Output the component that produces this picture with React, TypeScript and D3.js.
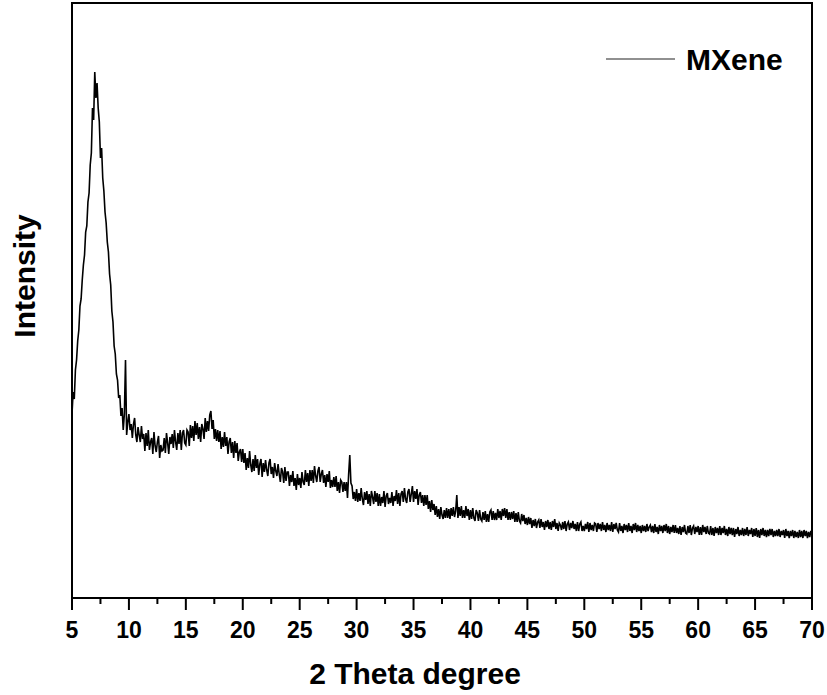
import React from "react";
import * as d3 from "d3";

// 2θ sampling: start, step (degrees)
const THETA_START = 5;
const THETA_STEP = 0.1;

// Intensity (a.u.) at 2θ = 5.0, 5.1, ... 70.0
const intensity: number[] = [
  // 5
  184, 206, 199, 228, 238, 257, 268, 292, 299, 318,
  // 6
  333, 343, 366, 372, 396, 405, 433, 445, 490, 478,
  // 7
  526, 500, 515, 490, 476, 440, 450, 420, 407, 386,
  // 8
  375, 356, 346, 324, 313, 287, 276, 252, 244, 224,
  // 9
  218, 200, 203, 182, 190, 168, 184, 238, 163, 176,
  // 10
  184, 168, 174, 160, 174, 180, 163, 156, 171, 163,
  // 11
  156, 172, 159, 164, 147, 165, 152, 168, 148, 156,
  // 12
  160, 144, 166, 152, 146, 156, 162, 140, 153, 147,
  // 13
  148, 160, 145, 165, 155, 144, 161, 154, 164, 150,
  // 14
  168, 156, 148, 165, 154, 168, 148, 165, 168, 155,
  // 15
  153, 168, 166, 152, 173, 160, 172, 157, 177, 163,
  // 16
  175, 159, 171, 156, 174, 169, 159, 180, 166, 177,
  // 17
  167, 183, 187, 169, 178, 159, 169, 157, 168, 156,
  // 18
  167, 149, 161, 151, 166, 152, 161, 144, 156, 160,
  // 19
  145, 156, 140, 157, 145, 155, 137, 146, 149, 136,
  // 20
  149, 135, 145, 128, 140, 130, 147, 133, 126, 139,
  // 21
  127, 143, 130, 139, 123, 134, 139, 121, 135, 126,
  // 22
  138, 128, 122, 135, 139, 124, 131, 120, 135, 127,
  // 23
  122, 134, 124, 116, 130, 126, 115, 131, 117, 126,
  // 24
  126, 112, 123, 116, 127, 112, 120, 108, 124, 113,
  // 25
  120, 110, 126, 116, 113, 128, 116, 125, 112, 128,
  // 26
  117, 128, 115, 132, 122, 116, 127, 131, 116, 124,
  // 27
  128, 115, 123, 111, 124, 116, 127, 110, 118, 111,
  // 28
  121, 111, 122, 107, 116, 105, 118, 116, 106, 116,
  // 29
  107, 116, 100, 124, 143, 115, 112, 99, 106, 97,
  // 30
  109, 96, 105, 97, 110, 99, 93, 106, 98, 107,
  // 31
  94, 104, 92, 107, 101, 94, 107, 96, 105, 92,
  // 32
  104, 92, 101, 95, 107, 91, 102, 105, 94, 100,
  // 33
  95, 106, 92, 102, 97, 108, 94, 105, 92, 104,
  // 34
  107, 96, 110, 99, 95, 106, 109, 96, 104, 112,
  // 35
  96, 107, 99, 109, 93, 103, 106, 95, 103, 92,
  // 36
  103, 93, 103, 89, 97, 86, 98, 88, 94, 83,
  // 37
  92, 81, 89, 79, 91, 83, 79, 88, 80, 90,
  // 38
  80, 89, 79, 90, 82, 91, 81, 87, 103, 80,
  // 39
  91, 82, 92, 80, 88, 80, 92, 82, 89, 78,
  // 40
  88, 79, 90, 80, 77, 88, 85, 77, 88, 79,
  // 41
  77, 86, 78, 87, 76, 84, 76, 86, 88, 78,
  // 42
  87, 78, 85, 78, 89, 80, 87, 78, 89, 82,
  // 43
  90, 80, 89, 78, 86, 78, 86, 79, 87, 76,
  // 44
  85, 76, 86, 77, 75, 84, 77, 83, 74, 80,
  // 45
  73, 81, 74, 80, 70, 78, 72, 79, 70, 76,
  // 46
  78, 70, 79, 71, 76, 68, 77, 71, 78, 69,
  // 47
  76, 68, 77, 71, 79, 69, 75, 67, 75, 73,
  // 48
  68, 76, 69, 77, 67, 74, 76, 68, 75, 70,
  // 49
  77, 69, 74, 67, 76, 67, 74, 76, 67, 72,
  // 50
  67, 74, 69, 76, 66, 75, 68, 73, 67, 75,
  // 51
  74, 66, 75, 69, 74, 67, 76, 68, 73, 66,
  // 52
  75, 68, 73, 67, 76, 66, 74, 69, 75, 68,
  // 53
  66, 75, 67, 72, 65, 74, 68, 73, 66, 75,
  // 54
  67, 72, 65, 74, 68, 75, 66, 73, 67, 72,
  // 55
  65, 73, 67, 72, 66, 74, 67, 71, 73, 66,
  // 56
  72, 65, 74, 66, 71, 64, 73, 67, 72, 65,
  // 57
  73, 67, 74, 65, 72, 64, 71, 66, 73, 65,
  // 58
  73, 65, 70, 64, 72, 63, 71, 66, 73, 65,
  // 59
  64, 72, 65, 73, 63, 70, 72, 64, 71, 66,
  // 60
  72, 63, 71, 63, 73, 66, 71, 64, 72, 65,
  // 61
  64, 72, 63, 70, 62, 71, 65, 70, 63, 72,
  // 62
  63, 70, 65, 72, 63, 69, 62, 71, 64, 70,
  // 63
  63, 70, 61, 69, 64, 71, 62, 68, 63, 70,
  // 64
  62, 69, 63, 71, 62, 68, 64, 70, 61, 69,
  // 65
  62, 70, 61, 68, 60, 69, 63, 70, 62, 68,
  // 66
  61, 68, 62, 69, 63, 69, 61, 67, 62, 68,
  // 67
  62, 69, 61, 67, 63, 68, 60, 69, 62, 67,
  // 68
  60, 67, 62, 68, 60, 67, 61, 66, 60, 68,
  // 69
  61, 67, 60, 68, 62, 67, 60, 66, 61, 67,
  // 70
  63,
];

const xMajorTicks = [5, 10, 15, 20, 25, 30, 35, 40, 45, 50, 55, 60, 65, 70];
const seriesName = "MXene";
const xTitle = "2 Theta degree";
const yTitle = "Intensity";

const W = 827;
const H = 695;
const M = { left: 72, right: 812, top: 3, bottom: 598 };
const FONT = "'Liberation Sans', Arial, Helvetica, sans-serif";

export default function App() {
  const x = d3.scaleLinear().domain([5, 70]).range([M.left, M.right]);
  const y = d3.scaleLinear().domain([0, 595]).range([M.bottom, M.top]);

  const pts: [number, number][] = intensity.map((v, i) => [
    THETA_START + i * THETA_STEP,
    v,
  ]);
  const line = d3
    .line<[number, number]>()
    .x((d) => x(d[0]))
    .y((d) => y(d[1]));

  const minorTicks = xMajorTicks.slice(0, -1).map((t) => t + 2.5);

  return (
    <svg
      width={W}
      height={H}
      style={{ position: "absolute", left: 0, top: 0, background: "#fff" }}
      fontFamily={FONT}
    >
      <rect x={0} y={0} width={W} height={H} fill="#fff" />
      <defs>
        <clipPath id="plotclip">
          <rect
            x={M.left}
            y={M.top}
            width={M.right - M.left}
            height={M.bottom - M.top}
          />
        </clipPath>
      </defs>
      <path
        d={line(pts) || ""}
        fill="none"
        stroke="#000"
        strokeWidth={1.6}
        strokeLinejoin="miter"
        clipPath="url(#plotclip)"
      />
      <rect
        x={M.left}
        y={M.top}
        width={M.right - M.left}
        height={M.bottom - M.top}
        fill="none"
        stroke="#000"
        strokeWidth={2}
      />
      {xMajorTicks.map((t) => (
        <g key={"M" + t}>
          <line
            x1={x(t)}
            x2={x(t)}
            y1={M.bottom}
            y2={M.bottom + 12}
            stroke="#000"
            strokeWidth={2}
          />
          <text
            x={x(t)}
            y={638}
            textAnchor="middle"
            fontSize={23}
            fontWeight="bold"
            fill="#000"
          >
            {t}
          </text>
        </g>
      ))}
      {minorTicks.map((t) => (
        <line
          key={"m" + t}
          x1={x(t)}
          x2={x(t)}
          y1={M.bottom}
          y2={M.bottom + 6}
          stroke="#000"
          strokeWidth={2}
        />
      ))}
      <text
        x={415}
        y={684}
        textAnchor="middle"
        fontSize={30}
        fontWeight="bold"
        fill="#000"
      >
        {xTitle}
      </text>
      <text
        transform="translate(35,276) rotate(-90)"
        textAnchor="middle"
        fontSize={30}
        fontWeight="bold"
        fill="#000"
      >
        {yTitle}
      </text>
      <line x1={606} x2={675} y1={59} y2={59} stroke="#222" strokeWidth={1.2} />
      <text x={686} y={70} fontSize={30} fontWeight="bold" fill="#000">
        {seriesName}
      </text>
    </svg>
  );
}
